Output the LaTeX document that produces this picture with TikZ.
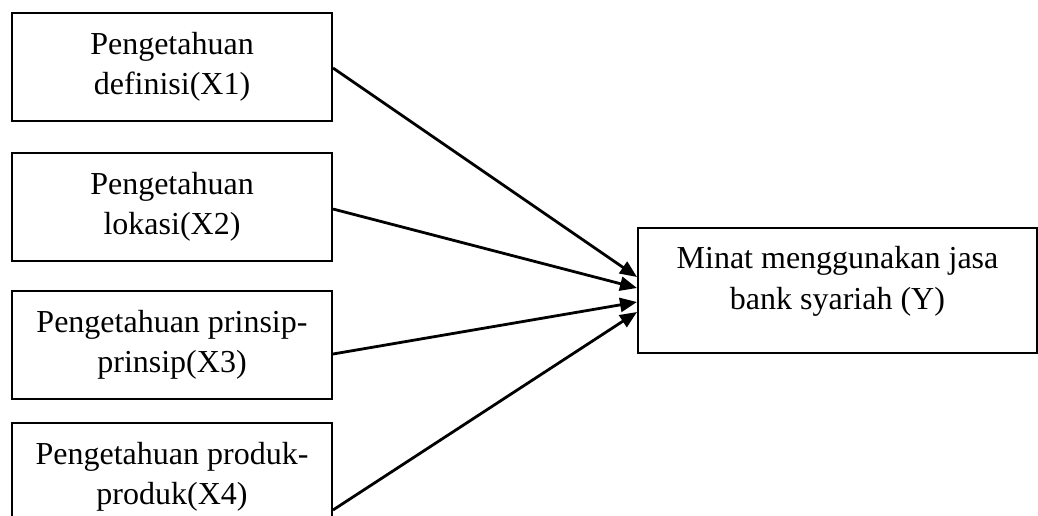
\documentclass[tikz,border=0pt]{standalone}
\usepackage{fontspec}
\setmainfont{Liberation Serif}
\usetikzlibrary{arrows.meta}
\begin{document}
\begin{tikzpicture}[x=1pt,y=-1pt,
  box/.style={draw=black,line width=2pt,minimum width=320pt,minimum height=108pt,
    inner sep=0pt,align=center,font=\fontsize{32}{40}\selectfont},
  lab/.style={inner sep=0pt,align=center,font=\fontsize{32}{41}\selectfont},
  link/.style={line width=2.8pt,-{Triangle[length=17pt,width=14pt]}}]
  \useasboundingbox (0,0) rectangle (1038,515);
  \clip (0,0) rectangle (1038,515);
  % factor boxes
  \node[box] (x1) at (172,67)    {Pengetahuan\\definisi(X1)};
  \node[box] (x2) at (172,206.5) {Pengetahuan\\lokasi(X2)};
  \node[box] (x3) at (172,344.5) {Pengetahuan prinsip-\\prinsip(X3)};
  \node[box] (x4) at (172,477)   {Pengetahuan produk-\\produk(X4)};
  % outcome box
  \node[box,minimum width=399pt,minimum height=125pt] (y) at (837.5,290.5) {};
  \node[lab] (ylab) at (837.5,281.5) {Minat menggunakan jasa\\bank syariah (Y)};
  % connectors
  \draw[link] ([yshift=-1pt]x1.east)   -- ([yshift=13.5pt]y.west);
  \draw[link] ([yshift=-2.5pt]x2.east) -- ([yshift=2.5pt]y.west);
  \draw[link] ([yshift=-9.5pt]x3.east) -- ([yshift=-11.5pt]y.west);
  \draw[link] ([yshift=-33pt]x4.east)  -- ([yshift=-21.5pt]y.west);
\end{tikzpicture}
\end{document}
